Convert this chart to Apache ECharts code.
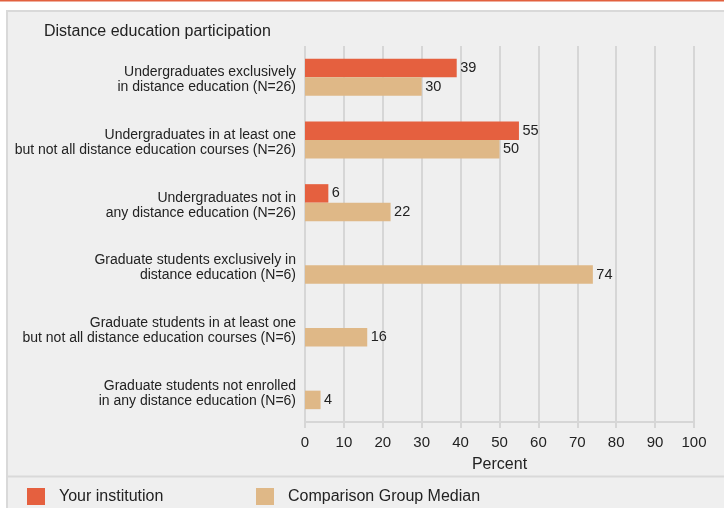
<!DOCTYPE html>
<html><head><meta charset="utf-8">
<script src="https://cdn.jsdelivr.net/npm/echarts@6/dist/echarts.min.js"></script>
<style>html,body{margin:0;padding:0;background:#fff}#c{width:724px;height:508px}</style>
</head><body><div id="c"></div>
<script>
const categories = [
  "Undergraduates exclusively\nin distance education (N=26)",
  "Undergraduates in at least one\nbut not all distance education courses (N=26)",
  "Undergraduates not in\nany distance education (N=26)",
  "Graduate students exclusively in\ndistance education (N=6)",
  "Graduate students in at least one\nbut not all distance education courses (N=6)",
  "Graduate students not enrolled\nin any distance education (N=6)"
];
const yourInstitution = [39, 55, 6, null, null, null];
const comparisonMedian = [30, 50, 22, 74, 16, 4];
const xTicks = [0, 10, 20, 30, 40, 50, 60, 70, 80, 90, 100];

const FONT = '"Liberation Sans", Arial, sans-serif';
const chart = echarts.init(document.getElementById('c'), null, {renderer: 'canvas'});
chart.setOption({
  animation: false,
  backgroundColor: '#ffffff',
  textStyle: {fontFamily: FONT},
  graphic: [
    {type: 'rect', z: -10, shape: {x: 7, y: 11, width: 730, height: 510}, style: {fill: '#efefef', stroke: '#d9d9d9', lineWidth: 2}},
    {type: 'line', z: -5, shape: {x1: 0, y1: 0.5, x2: 724, y2: 0.5}, style: {stroke: '#e2613f', lineWidth: 2}},
    {type: 'line', z: -5, shape: {x1: 8, y1: 476.5, x2: 724, y2: 476.5}, style: {stroke: '#d9d9d9', lineWidth: 2}}
  ],
  title: {
    text: 'Distance education participation',
    left: 39, top: 19,
    textStyle: {fontFamily: FONT, fontSize: 16, fontWeight: 'normal', color: '#222'}
  },
  legend: [
    {data: ['Your institution'], left: 22, top: 483, icon: 'rect', itemWidth: 18, itemHeight: 17, itemGap: 0,
     textStyle: {fontFamily: FONT, fontSize: 16, color: '#222', padding: [0, 0, 0, 9]}},
    {data: ['Comparison Group Median'], left: 251, top: 483, icon: 'rect', itemWidth: 18, itemHeight: 17, itemGap: 0,
     textStyle: {fontFamily: FONT, fontSize: 16, color: '#222', padding: [0, 0, 0, 9]}}
  ],
  grid: {left: 305, right: 30, top: 46, bottom: 86, containLabel: false},
  xAxis: {
    type: 'value', min: 0, max: 100, interval: 10,
    name: 'Percent', nameLocation: 'middle', nameGap: 35,
    nameTextStyle: {fontFamily: FONT, fontSize: 16, color: '#222'},
    axisLine: {show: true, lineStyle: {color: '#d6d6d6', width: 2}},
    axisTick: {show: true, length: 6, lineStyle: {color: '#d6d6d6', width: 2}},
    axisLabel: {fontFamily: FONT, fontSize: 15, color: '#222', margin: 13,
      formatter: v => xTicks.includes(v) ? String(v) : ''},
    splitLine: {show: true, lineStyle: {color: '#d6d6d6', width: 2}}
  },
  yAxis: {
    type: 'category', data: categories, inverse: true,
    axisLine: {show: false}, axisTick: {show: false},
    axisLabel: {
      fontFamily: FONT, fontSize: 14, color: '#222', margin: 9, lineHeight: 15, align: 'right',
      formatter: v => '{s| }\n' + v.split('\n').map(s => '{a|' + s + '}').join('\n'),
      rich: {
        s: {fontSize: 4, lineHeight: 5, fontFamily: FONT},
        a: {fontSize: 14, lineHeight: 15, fontFamily: FONT, color: '#222'}
      }
    },
    splitLine: {show: false}
  },
  series: [
    {name: 'Your institution', type: 'bar', data: yourInstitution, barWidth: 18.5, barGap: '0%',
     itemStyle: {color: '#e5603f'},
     label: {show: true, position: 'right', distance: 3.5, fontFamily: FONT, fontSize: 14.5, color: '#222'}},
    {name: 'Comparison Group Median', type: 'bar', data: comparisonMedian, barWidth: 18.5, barGap: '0%',
     itemStyle: {color: '#dfb887'},
     label: {show: true, position: 'right', distance: 3.5, fontFamily: FONT, fontSize: 14.5, color: '#222'}}
  ]
});
</script></body></html>
